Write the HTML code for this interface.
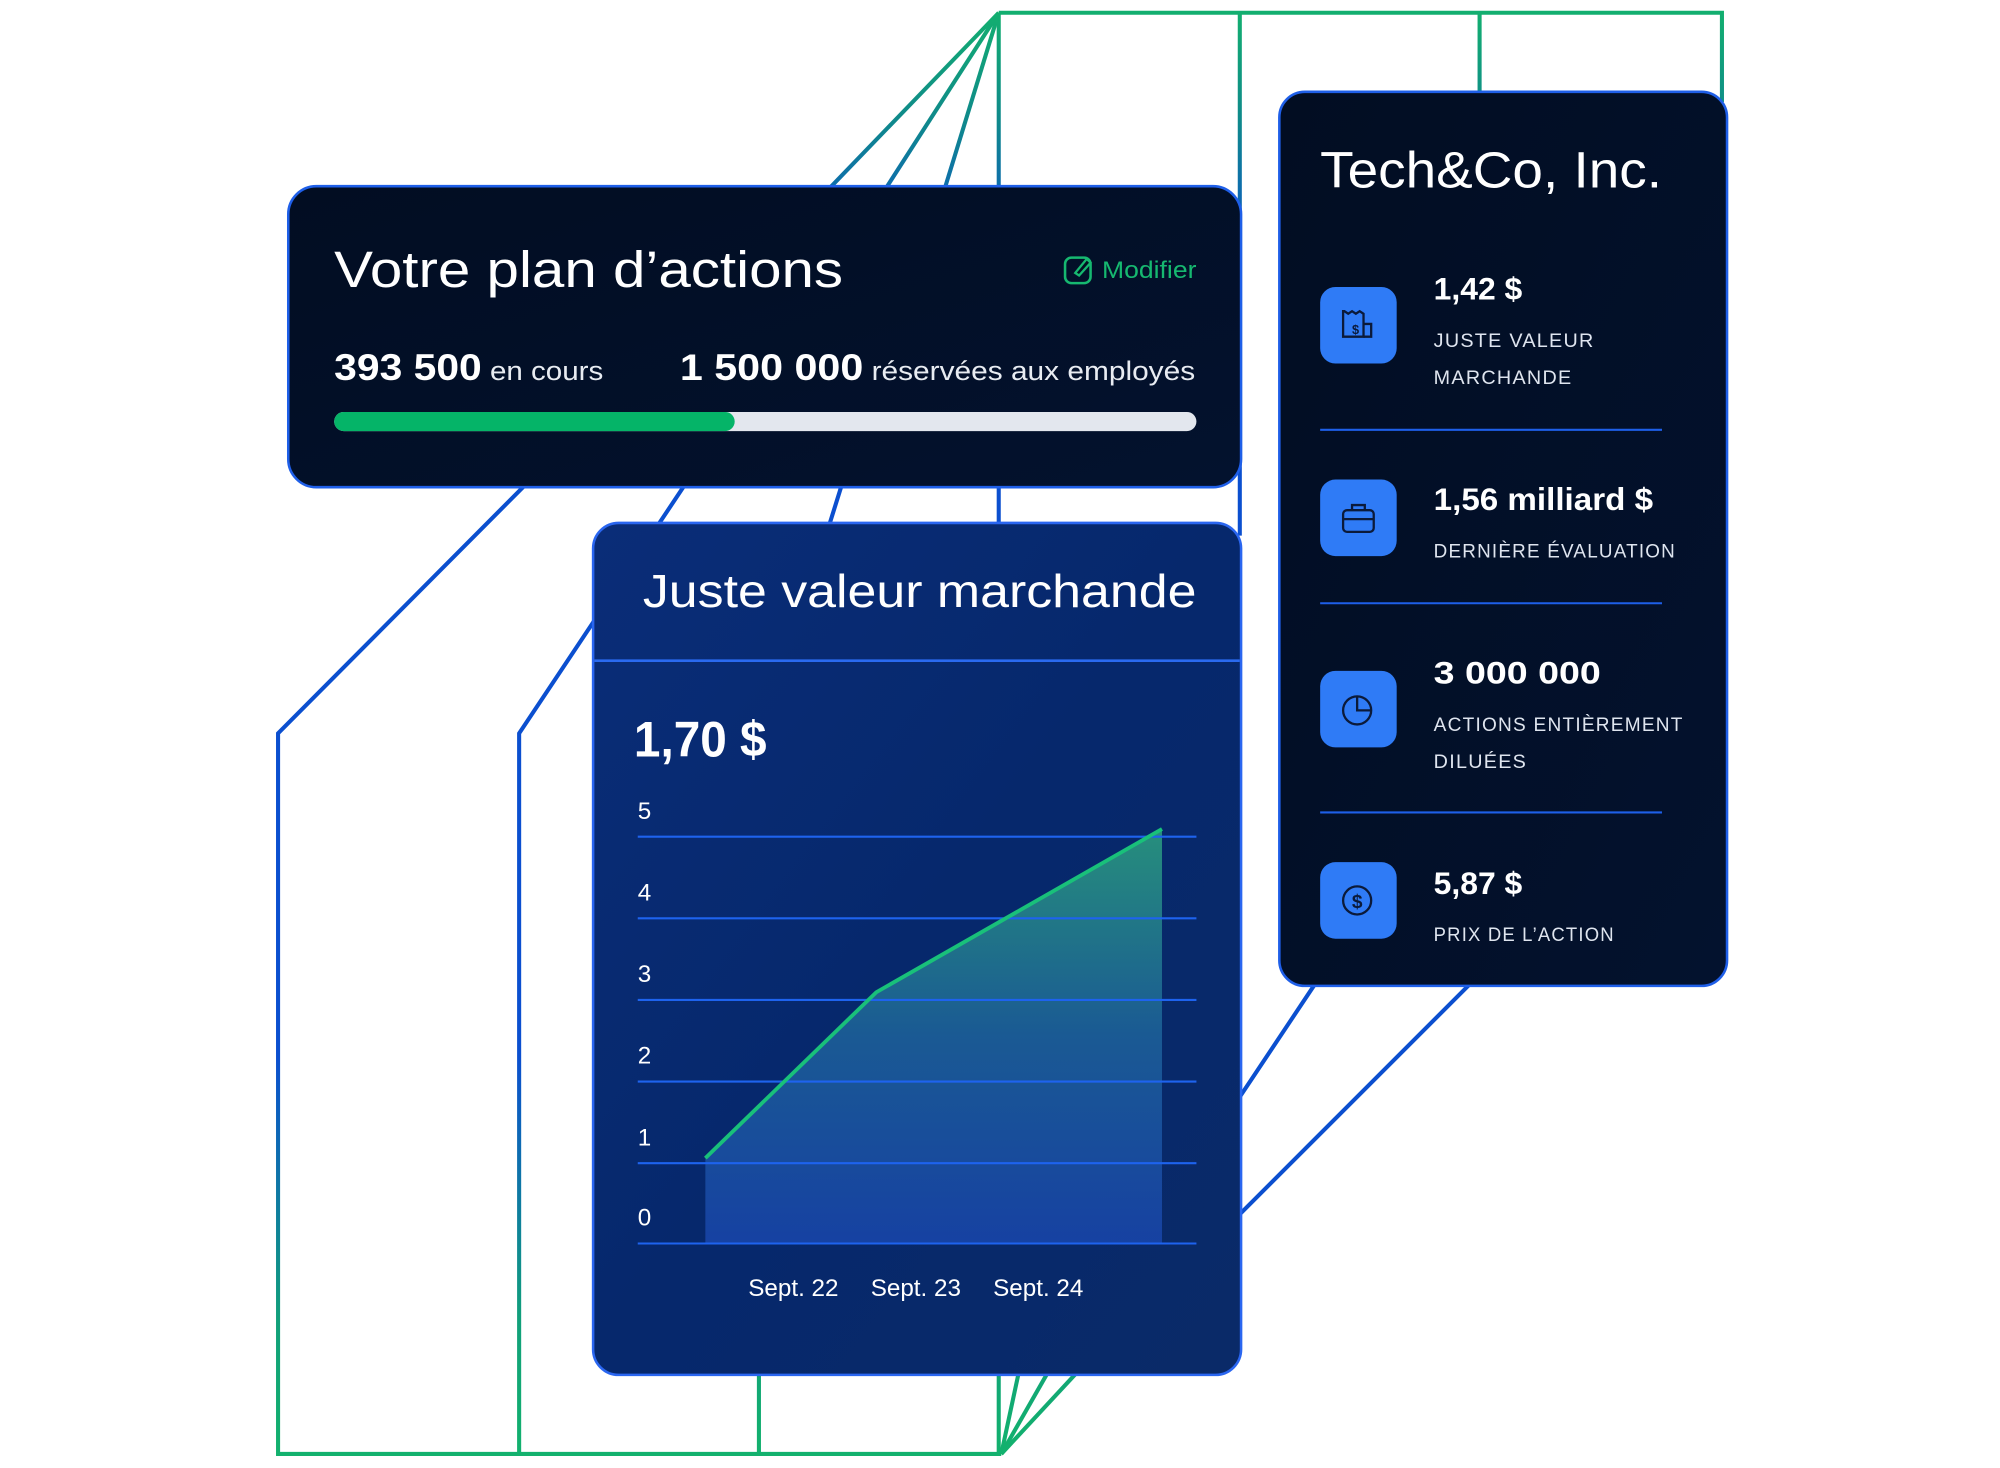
<!DOCTYPE html>
<html><head><meta charset="utf-8"><style>
html,body{margin:0;padding:0;background:#fff;}
svg{display:block;}
text{font-family:"Liberation Sans",sans-serif;}
</style></head><body>
<svg width="2000" height="1468" viewBox="0 0 1568 1151" preserveAspectRatio="none" xmlns="http://www.w3.org/2000/svg">
<defs>
<linearGradient id="lg" x1="0" y1="0" x2="0" y2="1151" gradientUnits="userSpaceOnUse">
<stop offset="0" stop-color="#13b36c"/><stop offset="0.08" stop-color="#0f8a8a"/><stop offset="0.18" stop-color="#0b4fcf"/>
<stop offset="0.72" stop-color="#0b4fcf"/><stop offset="0.9" stop-color="#11a07a"/><stop offset="1" stop-color="#13b36c"/>
</linearGradient>
<linearGradient id="c1" x1="0" y1="0" x2="1" y2="1"><stop offset="0" stop-color="#020d22"/><stop offset="1" stop-color="#03122e"/></linearGradient>
<linearGradient id="c2" x1="0" y1="0" x2="1" y2="1"><stop offset="0" stop-color="#0a2d78"/><stop offset="0.5" stop-color="#06286c"/><stop offset="1" stop-color="#0a2a68"/></linearGradient>
<linearGradient id="area" x1="0" y1="650" x2="0" y2="975" gradientUnits="userSpaceOnUse"><stop offset="0" stop-color="#2a9a7e"/><stop offset="0.5" stop-color="#1c5f98"/><stop offset="1" stop-color="#1844a8"/></linearGradient>
</defs>
<g fill="none" stroke="url(#lg)" stroke-width="3.2">
<polyline points="783,10 1350,10 1350,80"/>
<line x1="783" y1="10" x2="783" y2="420"/>
<line x1="972" y1="10" x2="972" y2="420"/>
<line x1="1160" y1="10" x2="1160" y2="80"/>
<line x1="783" y1="10" x2="648" y2="150"/>
<line x1="783" y1="10" x2="693" y2="150"/>
<line x1="783" y1="10" x2="740" y2="150"/>
<polyline points="412,380 218,575 218,1140 785,1140"/>
<polyline points="537,380 407,575 407,1140"/>
<line x1="660" y1="380" x2="650" y2="412"/>
<line x1="595" y1="1070" x2="595" y2="1140"/>
<line x1="783" y1="1070" x2="783" y2="1140"/>
<line x1="785" y1="1140" x2="800" y2="1070"/>
<line x1="785" y1="1140" x2="825" y2="1070"/>
<line x1="785" y1="1140" x2="850" y2="1070"/>
</g>
<g fill="none" stroke="#0b4fcf" stroke-width="3.2">
<line x1="1032" y1="770" x2="972" y2="860"/>
<line x1="1154" y1="770" x2="972" y2="952"/>
</g>
<!-- card 1 -->
<rect x="226" y="146" width="747" height="236" rx="22" fill="url(#c1)" stroke="#1f5fe8" stroke-width="2"/>
<text x="262" y="225" font-size="40" fill="#fff" textLength="399" lengthAdjust="spacingAndGlyphs">Votre plan d’actions</text>
<rect x="835" y="202" width="20" height="20" rx="5" fill="none" stroke="#16b870" stroke-width="2"/>
<path d="M843 214 L852 203 L855 206 L846 216 Z" fill="#020d22" stroke="#16b870" stroke-width="1.8"/>
<text x="864" y="218" font-size="19" fill="#16b870" textLength="74" lengthAdjust="spacingAndGlyphs">Modifier</text>
<text x="262" y="298" fill="#fff" textLength="211" lengthAdjust="spacingAndGlyphs"><tspan font-size="29" font-weight="bold">393 500</tspan><tspan font-size="21" fill="#e8ecf2"> en cours</tspan></text>
<text x="533" y="298" fill="#fff" textLength="404" lengthAdjust="spacingAndGlyphs"><tspan font-size="29" font-weight="bold">1 500 000</tspan><tspan font-size="21" fill="#e8ecf2"> réservées aux employés</tspan></text>
<rect x="262" y="323" width="676" height="15" rx="7.5" fill="#e3e7ee"/>
<rect x="262" y="323" width="314" height="15" rx="7.5" fill="#05b468"/>
<!-- card 2 -->
<rect x="465" y="410" width="508" height="668" rx="20" fill="url(#c2)" stroke="#2a66f0" stroke-width="2"/>
<text x="504" y="476" font-size="36" fill="#fff" textLength="434" lengthAdjust="spacingAndGlyphs">Juste valeur marchande</text>
<line x1="466" y1="518" x2="972" y2="518" stroke="#2a6af0" stroke-width="2"/>
<text x="497" y="593" font-size="39" font-weight="bold" fill="#fff" textLength="104" lengthAdjust="spacingAndGlyphs">1,70 $</text>
<polygon points="553,908 687,778 911,650 911,975 553,975" fill="url(#area)" opacity="0.9"/>
<g stroke="#1e63ee" stroke-width="1.6">
<line x1="500" y1="656" x2="938" y2="656"/><line x1="500" y1="720" x2="938" y2="720"/><line x1="500" y1="784" x2="938" y2="784"/>
<line x1="500" y1="848" x2="938" y2="848"/><line x1="500" y1="912" x2="938" y2="912"/><line x1="500" y1="975" x2="938" y2="975"/>
</g>
<polyline points="553,908 687,778 911,650" fill="none" stroke="#19c07a" stroke-width="3"/>
<g font-size="19" fill="#fff">
<text x="500" y="642">5</text><text x="500" y="706">4</text><text x="500" y="770">3</text>
<text x="500" y="834">2</text><text x="500" y="898">1</text><text x="500" y="961">0</text>
<text x="622" y="1016" text-anchor="middle">Sept. 22</text>
<text x="718" y="1016" text-anchor="middle">Sept. 23</text>
<text x="814" y="1016" text-anchor="middle">Sept. 24</text>
</g>
<!-- card 3 -->
<rect x="1003" y="72" width="351" height="701" rx="20" fill="url(#c1)" stroke="#1f5fe8" stroke-width="2"/>
<text x="1035" y="147" font-size="40" fill="#fff" textLength="268" lengthAdjust="spacingAndGlyphs">Tech&amp;Co, Inc.</text>
<g fill="#2f7bf6">
<rect x="1035" y="225" width="60" height="60" rx="12"/>
<rect x="1035" y="376" width="60" height="60" rx="12"/>
<rect x="1035" y="526" width="60" height="60" rx="12"/>
<rect x="1035" y="676" width="60" height="60" rx="12"/>
</g>
<g fill="none" stroke="#0b1a3a" stroke-width="1.8">
<path d="M1053 244 v20 h16 v-18 l-3 -2 l-3 2 l-3 -2 l-3 2 l-3 -2 z"/><path d="M1069 254 h6 v10 h-6"/>
<rect x="1053" y="400" width="24" height="17" rx="3"/><path d="M1060 400 v-4 h10 v4 M1053 407 h24"/>
<circle cx="1064" cy="557" r="11"/><path d="M1064 546 v11 h11"/>
<circle cx="1064" cy="706" r="11"/>
</g>
<text x="1064" y="712" font-size="15" font-weight="bold" fill="#0b1a3a" text-anchor="middle">$</text>
<text x="1060" y="262" font-size="10" font-weight="bold" fill="#0b1a3a">$</text>
<g fill="#fff" font-size="25" font-weight="bold">
<text x="1124" y="235">1,42 $</text>
<text x="1124" y="400" textLength="172" lengthAdjust="spacingAndGlyphs">1,56 milliard $</text>
<text x="1124" y="536" textLength="131" lengthAdjust="spacingAndGlyphs">3 000 000</text>
<text x="1124" y="701">5,87 $</text>
</g>
<g fill="#dfe5ef" font-size="15.5" letter-spacing="1">
<text x="1124" y="272">JUSTE VALEUR</text>
<text x="1124" y="301">MARCHANDE</text>
<text x="1124" y="437" textLength="190" lengthAdjust="spacingAndGlyphs">DERNIÈRE ÉVALUATION</text>
<text x="1124" y="573" textLength="196" lengthAdjust="spacingAndGlyphs">ACTIONS ENTIÈREMENT</text>
<text x="1124" y="602">DILUÉES</text>
<text x="1124" y="738" textLength="142" lengthAdjust="spacingAndGlyphs">PRIX DE L’ACTION</text>
</g>
<g stroke="#1e5fe8" stroke-width="1.6">
<line x1="1035" y1="337" x2="1303" y2="337"/><line x1="1035" y1="473" x2="1303" y2="473"/><line x1="1035" y1="637" x2="1303" y2="637"/>
</g>
</svg>
</body></html>
